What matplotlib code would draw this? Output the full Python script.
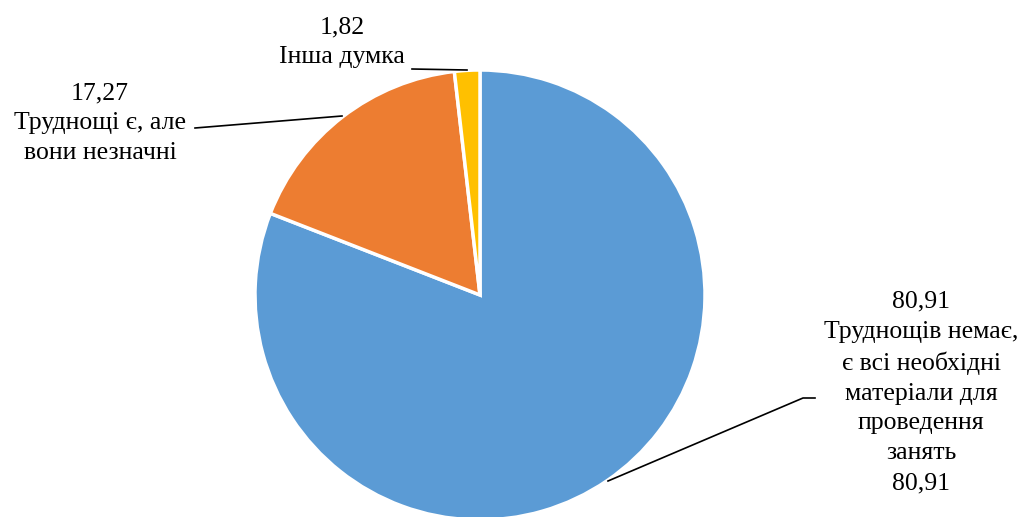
import matplotlib.pyplot as plt

labels = ['Труднощів немає,\nє всі необхідні\nматеріали для\nпроведення\nзанять',
          'Труднощі є, але\nвони незначні',
          'Інша думка']
values = [80.91, 17.27, 1.82]
value_text = ['80,91', '17,27', '1,82']
colors = ['#5B9BD5', '#ED7D31', '#FFC000']

plt.rcParams['font.family'] = ['Liberation Serif', 'DejaVu Serif']

W, H = 1027, 517
fig = plt.figure(figsize=(W / 100, H / 100), dpi=100)
ax = fig.add_axes([0, 0, 1, 1])

cx, cy, r = 480, H - 295, 225
ax.pie(values, colors=colors, startangle=90, counterclock=False,
       center=(cx, cy), radius=r, frame=True,
       wedgeprops=dict(edgecolor='white', linewidth=2.5))
ax.set_xlim(0, W)
ax.set_ylim(0, H)
ax.set_aspect('equal')
ax.axis('off')

# label blocks (value, name, and for the big slice the value again)
blocks = [
    (921, 392.5, value_text[0] + '\n' + labels[0] + '\n' + value_text[0]),
    (100, 123, value_text[1] + '\n' + labels[1]),
    (342, 42, value_text[2] + '\n' + labels[2]),
]
for x, y, s in blocks:
    ax.text(x, H - y, s, ha='center', va='center', fontsize=18.5,
            linespacing=1.46, color='black')

# leader lines
leaders = [
    ([608, 803, 815], [481, 398, 398]),
    ([195, 342], [128, 116]),
    ([412, 467], [69, 70]),
]
for xs, ys in leaders:
    ax.plot(xs, [H - v for v in ys], color='black', lw=1.2)

fig.savefig('out.png', dpi=100)
